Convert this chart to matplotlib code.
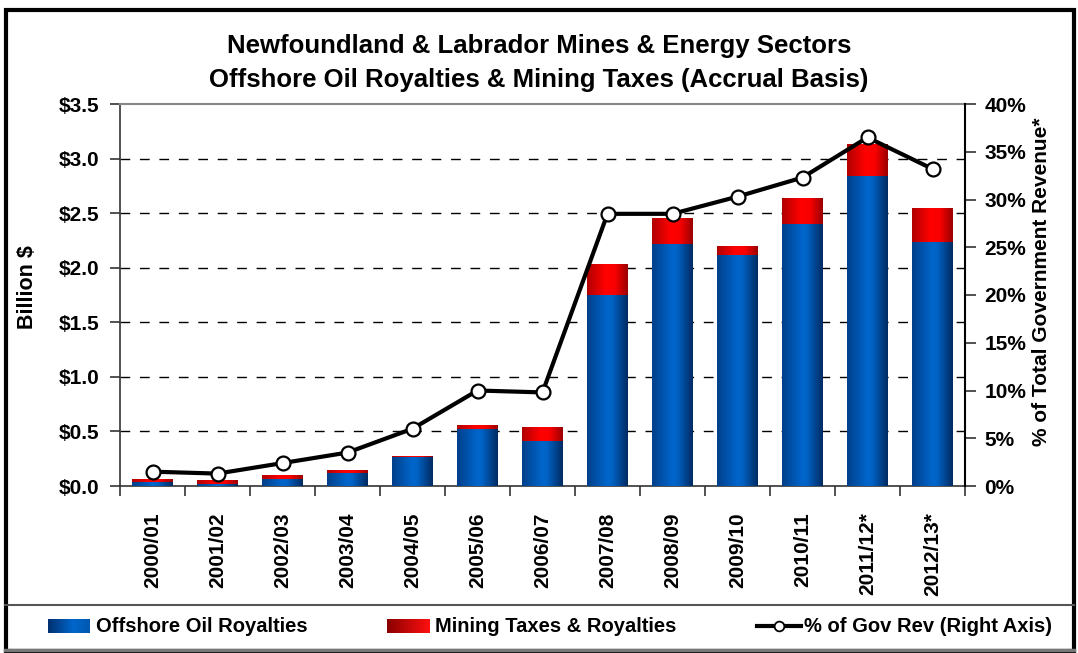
import matplotlib
matplotlib.use('Agg')
import matplotlib.pyplot as plt
import numpy as np
from matplotlib.colors import LinearSegmentedColormap
from matplotlib.patches import Rectangle

# ---- data ----
years = ['2000/01', '2001/02', '2002/03', '2003/04', '2004/05', '2005/06', '2006/07',
         '2007/08', '2008/09', '2009/10', '2010/11', '2011/12*', '2012/13*']
oil = [0.04, 0.02, 0.065, 0.12, 0.265, 0.52, 0.41, 1.75, 2.22, 2.12, 2.40, 2.84, 2.24]
mining = [0.025, 0.028, 0.028, 0.02, 0.004, 0.03, 0.12, 0.28, 0.235, 0.08, 0.23, 0.285, 0.305]
pct = [1.5, 1.3, 2.4, 3.5, 6.0, 10.0, 9.8, 28.5, 28.5, 30.3, 32.3, 36.5, 33.2]

left_ticks = [0.0, 0.5, 1.0, 1.5, 2.0, 2.5, 3.0, 3.5]
right_ticks = [0, 5, 10, 15, 20, 25, 30, 35, 40]

title1 = 'Newfoundland & Labrador Mines & Energy Sectors'
title2 = 'Offshore Oil Royalties & Mining Taxes (Accrual Basis)'
legend_labels = ['Offshore Oil Royalties', 'Mining Taxes & Royalties', '% of Gov Rev (Right Axis)']

plt.rcParams['font.family'] = ['Liberation Sans', 'DejaVu Sans']
plt.rcParams['font.weight'] = 'bold'

W, H = 1078, 653
fig = plt.figure(figsize=(W / 100, H / 100), dpi=100)
fig.patch.set_facecolor('white')

blue_cmap = LinearSegmentedColormap.from_list(
    'blue', [(0.0, '#003f8a'), (0.5, '#0066cc'), (0.62, '#0062c4'), (1.0, '#002b62')])
red_cmap = LinearSegmentedColormap.from_list(
    'red', [(0.0, '#b00000'), (0.45, '#ff0000'), (0.68, '#fa0000'), (1.0, '#9a0000')])
red_leg_cmap = LinearSegmentedColormap.from_list(
    'redleg', [(0.0, '#8a0000'), (1.0, '#ff1010')])
blue_leg_cmap = LinearSegmentedColormap.from_list(
    'blueleg', [(0.0, '#003070'), (0.6, '#0066cc'), (1.0, '#0058b0')])

# background/frame axes in pixel coordinates
lax = fig.add_axes([0, 0, 1, 1], zorder=0)
lax.set_xlim(0, W)
lax.set_ylim(H, 0)
lax.axis('off')
lax.add_patch(Rectangle((5.5, 9.5), 1068, 641, fill=False, edgecolor='black', lw=3))
lax.plot([5, 1074], [605, 605], color='#555555', lw=1.5)
lax.plot([5, 1074], [650, 650], color='#777777', lw=2.5)

# main axes
ax = fig.add_axes([120 / W, 1 - 486 / H, (965 - 120) / W, (486 - 104) / H], zorder=2)
ax.patch.set_alpha(0)
x = np.arange(len(years))
bw = 0.62
grad = np.linspace(0, 1, 128).reshape(1, -1)
for i in range(len(years)):
    b0, b1 = 0, oil[i]
    ax.imshow(grad, cmap=blue_cmap, extent=[x[i] - bw / 2, x[i] + bw / 2, b0, b1],
              aspect='auto', interpolation='bilinear', zorder=3)
    if mining[i] > 0:
        ax.imshow(grad, cmap=red_cmap, extent=[x[i] - bw / 2, x[i] + bw / 2, b1, b1 + mining[i]],
                  aspect='auto', interpolation='bilinear', zorder=3)

ax.set_xlim(-0.5, len(years) - 0.5)
ax.set_ylim(0, 3.5)
ax.set_yticks(left_ticks)
ax.set_yticklabels(['$%.1f' % v for v in left_ticks], fontsize=15, fontweight='bold')
for v in left_ticks[1:-1]:
    ax.axhline(v, color='black', lw=1, ls=(0, (7, 7)), zorder=1)
ax.set_xticks(x)
ax.set_xticklabels(years, rotation=90, fontsize=15, fontweight='bold')
ax.set_xticks(np.arange(-0.5, len(years), 1.0), minor=True)
ax.tick_params(axis='x', which='major', length=0, pad=19)
ax.tick_params(axis='x', which='minor', length=7, width=1.2, color='#333333', direction='out')
ax.tick_params(axis='y', length=7, width=1.2, color='#333333', direction='out', pad=8)
ax.set_ylabel('Billion $', fontsize=15.5, fontweight='bold')
ax.yaxis.set_label_coords(-0.097, 0.521)
for s in ['left', 'bottom']:
    ax.spines[s].set_color('#333333')
    ax.spines[s].set_linewidth(1.2)
ax.spines['top'].set_color('#888888')
ax.spines['top'].set_linewidth(1.5)
ax.spines['right'].set_visible(False)

ax2 = ax.twinx()
ax2.set_zorder(3)
ax2.patch.set_alpha(0)
ax2.plot(x, pct, color='black', lw=3, marker='o', markersize=10,
         markerfacecolor='white', markeredgecolor='black', markeredgewidth=1.6, zorder=5,
         clip_on=False)
ax2.set_ylim(0, 40)
ax2.set_yticks(right_ticks)
ax2.set_yticklabels(['%d%%' % v for v in right_ticks], fontsize=15, fontweight='bold')
ax2.tick_params(axis='y', length=8, width=1.2, color='#333333', direction='out', pad=6)
ax2.set_ylabel('% of Total Government Revenue*', fontsize=15, fontweight='bold')
ax2.yaxis.set_label_coords(1.079, 0.534)
for s in ['left', 'top', 'bottom']:
    ax2.spines[s].set_visible(False)
ax2.spines['right'].set_color('black')
ax2.spines['right'].set_linewidth(1.5)

# title
fig.text(0.5, 1 - 46 / H, title1, ha='center', va='center', fontsize=18.5, fontweight='bold')
fig.text(0.5, 1 - 80 / H, title2, ha='center', va='center', fontsize=18.5, fontweight='bold')

# legend (manual, in pixel coordinates)
ly = 626
lax.imshow(grad, cmap=blue_leg_cmap, extent=[48, 90, ly + 7, ly - 7], aspect='auto', zorder=2)
lax.text(96, ly, legend_labels[0], ha='left', va='center', fontsize=14.5, fontweight='bold')
lax.imshow(grad, cmap=red_leg_cmap, extent=[387, 430, ly + 7, ly - 7], aspect='auto', zorder=2)
lax.text(435, ly, legend_labels[1], ha='left', va='center', fontsize=14.5, fontweight='bold')
lax.plot([757, 801], [ly, ly], color='black', lw=3, zorder=2)
lax.plot([779], [ly], marker='o', markersize=7, markerfacecolor='white',
         markeredgecolor='black', markeredgewidth=1.3, zorder=3)
lax.text(804, ly, legend_labels[2], ha='left', va='center', fontsize=14.5, fontweight='bold')
lax.set_xlim(0, W)
lax.set_ylim(H, 0)

fig.savefig('out.png', dpi=100)
